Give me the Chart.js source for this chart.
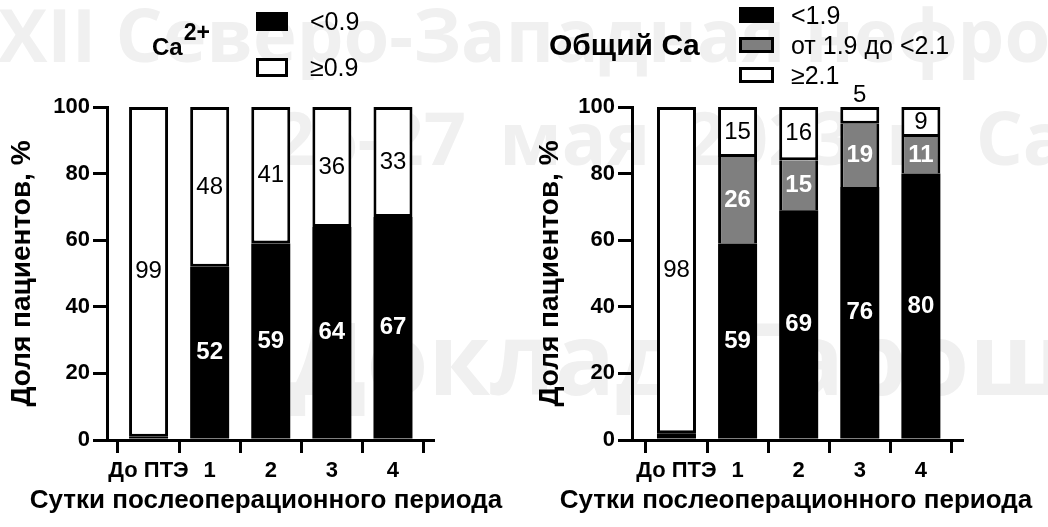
<!DOCTYPE html>
<html lang="ru">
<head>
<meta charset="utf-8">
<title>Кальций после ПТЭ</title>
<script src="https://cdn.jsdelivr.net/npm/chart.js@4.4.1/dist/chart.umd.min.js"></script>
<style>
  html, body { margin: 0; padding: 0; background: #fff; }
  #stage { position: relative; width: 1048px; height: 527px; overflow: hidden;
           font-family: "Liberation Sans", Arial, sans-serif; color: #000; }
  .wm { position: absolute; white-space: nowrap; color: #f0f0f0; line-height: 1;
        font-family: "Open Sans", sans-serif; font-weight: 700; }
  canvas { position: absolute; top: 0; }
  .title { position: absolute; font-weight: 700; white-space: nowrap; }
  .title .sup { position: relative; font-size: 23px; margin-left: 1px; }
  .xtitle { position: absolute; width: 600px; text-align: center; font-weight: 700;
            font-size: 26px; line-height: 26px; white-space: nowrap; }
  .legend { position: absolute; font-size: 25px; }
  .legend .row { display: flex; align-items: center; white-space: nowrap; }
  .legend .box { box-sizing: border-box; border: 3px solid #000; }
</style>
</head>
<body>
<div id="stage">
  <div class="wm" style="left:-2px; top:-3px; font-size:74px;">XII Северо-Западная нефрологическая конференция</div>
  <div class="wm" style="left:273px; top:100px; font-size:74px; word-spacing:14px;">26-27 мая 2023 г. Санкт-Петербург</div>
  <div class="wm" style="left:290px; top:306px; font-size:100px; word-spacing:20px;">Доклад Гарошенко</div>

  <canvas id="ionChart" width="524" height="527" style="left:0px"></canvas>
  <canvas id="totalChart" width="524" height="527" style="left:524px"></canvas>

  <div class="title" style="left:152px; top:35px; font-size:24px; line-height:24px;">Ca<span class="sup" style="top:-15px;">2+</span></div>
  <div class="legend" id="ionLegend" style="left:256px; top:-2px;"></div>

  <div class="title" style="left:549px; top:30px; font-size:30px; line-height:30px;">Общий Ca</div>
  <div class="legend" id="totalLegend" style="left:739px; top:0px;"></div>

  <div class="xtitle" style="left:-34px; top:486px;">Сутки послеоперационного периода</div>
  <div class="xtitle" style="left:496px; top:486px;">Сутки послеоперационного периода</div>
</div>

<script>
// Days of the postoperative period (first column: before parathyroidectomy)
const days = ['До ПТЭ', '1', '2', '3', '4'];

// Ionized calcium, share of patients, %
const ionLow    = [1, 52, 59, 64, 67];   // < 0.9
const ionNormal = [99, 48, 41, 36, 33];  // ≥ 0.9

// Total calcium, share of patients, %
const totalLow    = [2, 59, 69, 76, 80];  // < 1.9
const totalMid    = [0, 26, 15, 19, 11];  // 1.9 – < 2.1
const totalNormal = [98, 15, 16, 5, 9];   // ≥ 2.1

const ionNames   = ['<0.9', '≥0.9'];
const totalNames = ['<1.9', 'от 1.9 до <2.1', '≥2.1'];

const yMin = 0, yMax = 100, yStep = 20;

const BLACK = '#000000', GREY = '#7f7f7f', WHITE = '#ffffff';
const FONT = '"Liberation Sans", Arial, sans-serif';

Chart.defaults.font.family = FONT;
Chart.defaults.color = '#000';

const toPoints = arr => arr.map((v, i) => ({ x: i, y: v }));

function segment(label, values, fill, border) {
  return {
    label,
    data: toPoints(values),
    backgroundColor: fill,
    borderColor: BLACK,
    borderWidth: border,
    borderSkipped: false,
    barThickness: 39,
    inflateAmount: 0
  };
}

// Value labels inside each stacked segment; a thin top segment gets its label above the bar
const segmentLabels = {
  id: 'segmentLabels',
  afterDatasetsDraw(chart) {
    const ctx = chart.ctx;
    const last = chart.data.datasets.length - 1;
    chart.data.datasets.forEach((ds, di) => {
      const meta = chart.getDatasetMeta(di);
      meta.data.forEach((bar, i) => {
        const v = ds.data[i].y;
        if (v < 3) return;
        const top = Math.min(bar.y, bar.base);
        const h = Math.abs(bar.base - bar.y);
        const onWhite = ds.backgroundColor === WHITE;
        ctx.save();
        ctx.textAlign = 'center';
        ctx.font = (onWhite ? '' : 'bold ') + '24px ' + FONT;
        ctx.fillStyle = onWhite ? '#000' : '#fff';
        if (h < 20 && di === last) {
          ctx.fillStyle = '#000';
          ctx.textBaseline = 'alphabetic';
          ctx.fillText(String(v), bar.x, top - 5);
        } else {
          ctx.textBaseline = 'middle';
          ctx.fillText(String(v), bar.x, top + h / 2);
        }
        ctx.restore();
      });
    });
  }
};

function makeChart(canvasId, datasets, frame) {
  return new Chart(document.getElementById(canvasId), {
    type: 'bar',
    data: { datasets },
    plugins: [segmentLabels],
    options: {
      responsive: false,
      animation: false,
      devicePixelRatio: 1,
      layout: { padding: { left: 0, top: 107, right: frame.padRight, bottom: 0 } },
      plugins: { legend: { display: false }, tooltip: { enabled: false } },
      scales: {
        x: {
          type: 'linear',
          stacked: true,
          min: frame.xMin,
          max: frame.xMax,
          offset: false,
          afterBuildTicks: s => { s.ticks = days.map((_, i) => ({ value: i })); },
          afterFit: s => { s.height = 87; },
          border: { display: true, color: BLACK, width: 3 },
          grid: { drawOnChartArea: false, drawTicks: true, tickLength: 13, color: BLACK, lineWidth: 3 },
          ticks: {
            autoSkip: false, maxRotation: 0, padding: 5,
            font: { size: 22, weight: 'bold' },
            callback: v => days[v]
          }
        },
        y: {
          stacked: true,
          min: yMin, max: yMax,
          afterFit: s => { s.width = frame.yWidth; },
          border: { display: true, color: BLACK, width: 3 },
          grid: { drawOnChartArea: false, drawTicks: true, tickLength: 14, color: BLACK, lineWidth: 3 },
          ticks: { stepSize: yStep, padding: 3, font: { size: 22, weight: 'bold' } },
          title: {
            display: true, text: 'Доля пациентов, %',
            font: { size: 28, weight: 'bold' },
            padding: { top: frame.titlePad, bottom: 0 }
          }
        }
      }
    }
  });
}

const ionChart = makeChart('ionChart', [
  segment(ionNames[0], ionLow, BLACK, 0),
  segment(ionNames[1], ionNormal, WHITE, 3)
], { xMin: -0.68, xMax: 4.655, padRight: 91, yWidth: 107, titlePad: 5 });

const totalChart = makeChart('totalChart', [
  segment(totalNames[0], totalLow, BLACK, 0),
  segment(totalNames[1], totalMid, GREY, { left: 3, right: 3, top: 0, bottom: 0 }),
  segment(totalNames[2], totalNormal, WHITE, 3)
], { xMin: -0.728, xMax: 4.673, padRight: 86, yWidth: 108, titlePad: 9 });

// Legends built from the chart datasets
function buildLegend(el, chart, box, rowH, gap) {
  chart.data.datasets.forEach(ds => {
    const row = document.createElement('div');
    row.className = 'row';
    row.style.height = rowH + 'px';
    const sw = document.createElement('div');
    sw.className = 'box';
    sw.style.width = box.w + 'px';
    sw.style.height = box.h + 'px';
    sw.style.background = ds.backgroundColor;
    sw.style.marginRight = gap + 'px';
    const txt = document.createElement('span');
    txt.textContent = ds.label;
    row.appendChild(sw);
    row.appendChild(txt);
    el.appendChild(row);
  });
}
buildLegend(document.getElementById('ionLegend'), ionChart, { w: 32, h: 19 }, 46, 22);
buildLegend(document.getElementById('totalLegend'), totalChart, { w: 35, h: 16 }, 30, 17);
</script>
</body>
</html>
